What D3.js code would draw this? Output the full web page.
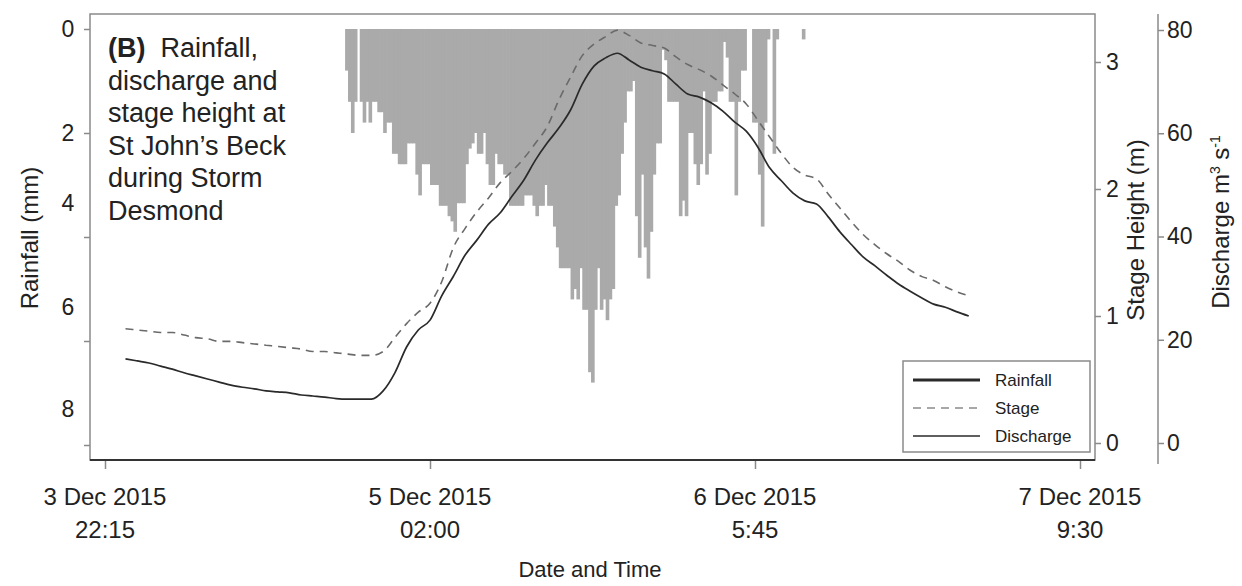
<!DOCTYPE html>
<html>
<head>
<meta charset="utf-8">
<script src="https://cdn.jsdelivr.net/npm/d3@7"></script>
<style>
  html, body { margin: 0; padding: 0; background: #fff; }
  svg { display: block; }
  text { font-family: "Liberation Sans", Arial, sans-serif; fill: #222; }
</style>
</head>
<body>
<svg id="chart" width="1242" height="586"></svg>
<script>
// ---------------- data ----------------
// x axis tick times and labels
const xTickTimes = [
  Date.UTC(2015, 11, 3, 22, 15),
  Date.UTC(2015, 11, 5, 2, 0),
  Date.UTC(2015, 11, 6, 5, 45),
  Date.UTC(2015, 11, 7, 9, 30)
];
const xTickLine1 = ["3 Dec 2015", "5 Dec 2015", "6 Dec 2015", "7 Dec 2015"];
const xTickLine2 = ["22:15", "02:00", "5:45", "9:30"];

// axis ticks
const rainTicks = [0, 2, 4, 6, 8];
const stageTicks = [0, 1, 2, 3];
const dischargeTicks = [0, 20, 40, 60, 80];

// rainfall, 15-minute totals (mm), first bin starting 4 Dec 2015 18:45
const rainStart = Date.UTC(2015, 11, 4, 18, 45);
const rainStepMin = 15;
const rainfall = [
  0.8, 1.4, 2.0, 1.4, 0, 1.4, 1.8, 1.4, 1.8, 1.4,
  1.4, 1.6, 1.6, 2.0, 1.8, 1.8, 2.4, 2.4, 2.6, 2.6,
  2.6, 2.2, 2.2, 2.2, 2.8, 3.2, 2.6, 2.6, 2.6, 3.0,
  3.0, 3.0, 3.4, 3.4, 3.4, 3.6, 3.7, 3.9, 3.35, 3.35,
  3.35, 2.6, 2.3, 2.2, 2.0, 2.4, 2.4, 2.0, 2.6, 3.0,
  3.0, 2.4, 2.6, 2.6, 2.8, 2.8, 3.4, 3.4, 3.4, 3.4,
  3.4, 3.2, 3.2, 3.2, 3.4, 3.6, 3.4, 3.4, 3.0, 3.4,
  3.4, 3.8, 4.2, 4.6, 4.6, 4.6, 4.6, 5.2, 5.0, 5.2,
  4.6, 5.4, 5.4, 6.6, 6.8, 5.4, 4.6, 5.4, 5.2, 5.6,
  5.2, 5.0, 3.4, 3.2, 2.4, 1.8, 1.2, 1.2, 1.0, 3.6,
  4.4, 2.8, 4.2, 4.8, 3.9, 2.8, 2.2, 2.2, 0.4, 0.6,
  1.4, 1.4, 1.4, 1.4, 3.6, 3.3, 3.6, 2.0, 2.0, 2.6,
  3.0, 2.6, 1.2, 2.8, 2.4, 1.4, 1.4, 1.2, 1.2, 0.25,
  0.55, 1.4, 1.4, 3.2, 1.4, 0.8, 0.8, 0, 0, 1.8,
  1.8, 2.8, 3.8, 1.8, 0.2, 0, 2.4, 0.2, 0, 0,
  0, 0, 0, 0, 0, 0, 0.2
];

// hourly series starting 4 Dec 2015 00:00
const seriesStart = Date.UTC(2015, 11, 4, 0, 0);
const stage = [
  0.90, 0.89, 0.88, 0.87, 0.87, 0.85, 0.83, 0.82, 0.80, 0.80,
  0.79, 0.78, 0.77, 0.76, 0.75, 0.74, 0.72, 0.72, 0.71, 0.70,
  0.69, 0.69, 0.72, 0.83, 0.94, 1.03, 1.10, 1.27, 1.54, 1.69,
  1.82, 1.93, 2.05, 2.14, 2.24, 2.36, 2.49, 2.70, 2.88, 3.05,
  3.14, 3.20, 3.25, 3.21, 3.15, 3.13, 3.11, 3.04, 2.98, 2.94,
  2.89, 2.82, 2.75, 2.67, 2.54, 2.41, 2.28, 2.17, 2.11, 2.08,
  1.96, 1.85, 1.74, 1.64, 1.56, 1.49, 1.43, 1.36, 1.31, 1.28,
  1.23, 1.19, 1.16
];
const discharge = [
  16.3, 15.9, 15.5, 14.9, 14.3, 13.6, 13.0, 12.4, 11.8, 11.2,
  10.8, 10.5, 10.1, 9.9, 9.7, 9.3, 9.1, 8.9, 8.6, 8.5,
  8.5, 8.5, 10.1, 13.6, 18.6, 21.9, 23.8, 28.5, 32.3, 36.4,
  39.3, 42.4, 44.6, 47.8, 50.9, 54.8, 58.1, 61.0, 64.5, 69.5,
  73.0, 74.6, 75.5, 74.2, 72.8, 72.1, 71.5, 69.5, 67.6, 67.0,
  65.9, 64.3, 62.2, 60.4, 57.3, 53.3, 50.8, 48.4, 46.9, 46.3,
  43.8, 40.9, 38.4, 36.0, 34.3, 32.5, 30.8, 29.4, 28.1, 26.9,
  26.3, 25.4, 24.6
];

const titleLines = ["Rainfall,", "discharge and", "stage height at", "St John\u2019s Beck", "during Storm", "Desmond"];
const legendItems = ["Rainfall", "Stage", "Discharge"];

// ---------------- layout ----------------
const svg = d3.select("#chart");
const box = { left: 90, top: 14, right: 1095, bottom: 460 };
const HOUR = 3600 * 1000;
const FONT = "Liberation Sans, Arial, sans-serif";

const x = d3.scaleTime()
  .domain([new Date(xTickTimes[0]), new Date(xTickTimes[3])])
  .range([105, 1080]);
const rainY = d3.scaleLinear().domain([0, 8]).range([29, 445]);
const stageY = d3.scaleLinear().domain([0, 3]).range([443, 62]);
const qY = d3.scaleLinear().domain([0, 80]).range([443, 30]);

const rainData = rainfall.map((v, i) => ({
  t0: new Date(rainStart + i * rainStepMin * 60000),
  t1: new Date(rainStart + (i + 1) * rainStepMin * 60000),
  v
}));
const stageData = stage.map((v, i) => ({ t: new Date(seriesStart + i * HOUR), v }));
const qData = discharge.map((v, i) => ({ t: new Date(seriesStart + i * HOUR), v }));

// bars
svg.append("g").selectAll("rect").data(rainData.filter(d => d.v > 0)).join("rect")
  .attr("x", d => x(d.t0))
  .attr("width", d => x(d.t1) - x(d.t0) + 0.7)
  .attr("y", rainY(0))
  .attr("height", d => rainY(d.v) - rainY(0))
  .attr("fill", "#aaaaaa");

// lines
const lineS = d3.line().x(d => x(d.t)).y(d => stageY(d.v)).curve(d3.curveMonotoneX);
const lineQ = d3.line().x(d => x(d.t)).y(d => qY(d.v)).curve(d3.curveMonotoneX);
svg.append("path").datum(stageData).attr("d", lineS)
  .attr("fill", "none").attr("stroke", "#6a6a6a").attr("stroke-width", 1.6)
  .attr("stroke-dasharray", "8,6");
svg.append("path").datum(qData).attr("d", lineQ)
  .attr("fill", "none").attr("stroke", "#2a2a2a").attr("stroke-width", 1.7);

// plot box
svg.append("rect")
  .attr("x", box.left).attr("y", box.top)
  .attr("width", box.right - box.left).attr("height", box.bottom - box.top)
  .attr("fill", "none").attr("stroke", "#8a8a8a").attr("stroke-width", 1.5);
svg.append("line")
  .attr("x1", box.left).attr("x2", box.right)
  .attr("y1", box.bottom).attr("y2", box.bottom)
  .attr("stroke", "#333").attr("stroke-width", 2);

// x axis
const xAxis = svg.append("g").attr("transform", `translate(0,${box.bottom + 1})`)
  .call(d3.axisBottom(x).tickValues(xTickTimes.map(t => new Date(t))).tickSize(8).tickFormat(""));
xAxis.select(".domain").remove();
xAxis.selectAll(".tick line").attr("stroke", "#8a8a8a").attr("stroke-width", 1.5);
xTickTimes.forEach((t, i) => {
  const g = svg.append("text").attr("text-anchor", "middle").attr("font-size", 24);
  g.append("tspan").attr("x", x(new Date(t))).attr("y", 505).text(xTickLine1[i]);
  g.append("tspan").attr("x", x(new Date(t))).attr("y", 538).text(xTickLine2[i]);
});

// left axis (rainfall)
const yAxisL = svg.append("g").attr("transform", `translate(${box.left},0)`)
  .call(d3.axisLeft(rainY).tickValues(rainTicks).tickSize(6).tickFormat(""));
yAxisL.select(".domain").remove();
yAxisL.selectAll(".tick line").attr("stroke", "#8a8a8a").attr("stroke-width", 1.5);
const rainLabelShift = [0, 0, -34, -34, -36];
rainTicks.forEach((v, i) => {
  svg.append("text").attr("x", 68).attr("y", rainY(v) + rainLabelShift[i])
    .attr("dy", "0.36em").attr("text-anchor", "middle").attr("font-size", 23)
    .text(v);
});

// stage axis (right edge of box)
const yAxisS = svg.append("g").attr("transform", `translate(${box.right},0)`)
  .call(d3.axisRight(stageY).tickValues(stageTicks).tickSize(6).tickPadding(5)
    .tickFormat(d3.format("d")));
yAxisS.select(".domain").remove();
yAxisS.selectAll(".tick line").attr("stroke", "#8a8a8a").attr("stroke-width", 1.5);
yAxisS.selectAll(".tick text").attr("font-size", 23).attr("fill", "#222")
  .attr("font-family", FONT);

// discharge axis
const qx = 1158;
svg.append("line").attr("x1", qx).attr("x2", qx).attr("y1", 14).attr("y2", 464)
  .attr("stroke", "#8a8a8a").attr("stroke-width", 1.5);
const yAxisQ = svg.append("g").attr("transform", `translate(${qx},0)`)
  .call(d3.axisRight(qY).tickValues(dischargeTicks).tickSize(6).tickPadding(3));
yAxisQ.select(".domain").remove();
yAxisQ.selectAll(".tick line").attr("stroke", "#8a8a8a").attr("stroke-width", 1.5);
yAxisQ.selectAll(".tick text").attr("font-size", 23).attr("fill", "#222")
  .attr("font-family", FONT);

// axis titles
svg.append("text").attr("transform", "translate(38,238) rotate(-90)")
  .attr("text-anchor", "middle").attr("font-size", 24).text("Rainfall (mm)");
svg.append("text").attr("transform", "translate(1144,230) rotate(-90)")
  .attr("text-anchor", "middle").attr("font-size", 24).text("Stage Height (m)");
const qt = svg.append("text").attr("transform", "translate(1229,222) rotate(-90)")
  .attr("text-anchor", "middle").attr("font-size", 24);
qt.append("tspan").text("Discharge m");
qt.append("tspan").attr("font-size", 14).attr("dy", -9).text("3");
qt.append("tspan").attr("dy", 9).text(" s");
qt.append("tspan").attr("font-size", 14).attr("dy", -9).text("-1");
svg.append("text").attr("x", 590).attr("y", 577).attr("text-anchor", "middle")
  .attr("font-size", 22).text("Date and Time");

// panel title
const title = svg.append("text").attr("font-size", 27);
titleLines.forEach((s, i) => {
  const ts = title.append("tspan").attr("x", 108).attr("y", 57 + i * 32.6);
  if (i === 0) {
    ts.append("tspan").attr("font-weight", "bold").text("(B)");
    ts.append("tspan").text("\u00a0 " + s);
  } else {
    ts.text(s);
  }
});

// legend
const lg = svg.append("g");
lg.append("rect").attr("x", 903).attr("y", 361).attr("width", 187).attr("height", 91)
  .attr("fill", "#fff").attr("stroke", "#8a8a8a").attr("stroke-width", 1.5);
const legendStyles = [
  { stroke: "#2a2a2a", w: 3.2, dash: null },
  { stroke: "#8a8a8a", w: 1.6, dash: "8,6" },
  { stroke: "#2a2a2a", w: 1.6, dash: null }
];
legendItems.forEach((name, i) => {
  const yy = 380 + i * 28;
  lg.append("line").attr("x1", 913).attr("x2", 980).attr("y1", yy).attr("y2", yy)
    .attr("stroke", legendStyles[i].stroke).attr("stroke-width", legendStyles[i].w)
    .attr("stroke-dasharray", legendStyles[i].dash);
  lg.append("text").attr("x", 995).attr("y", yy).attr("dy", "0.35em")
    .attr("font-size", 17).text(name);
});
</script>
</body>
</html>
